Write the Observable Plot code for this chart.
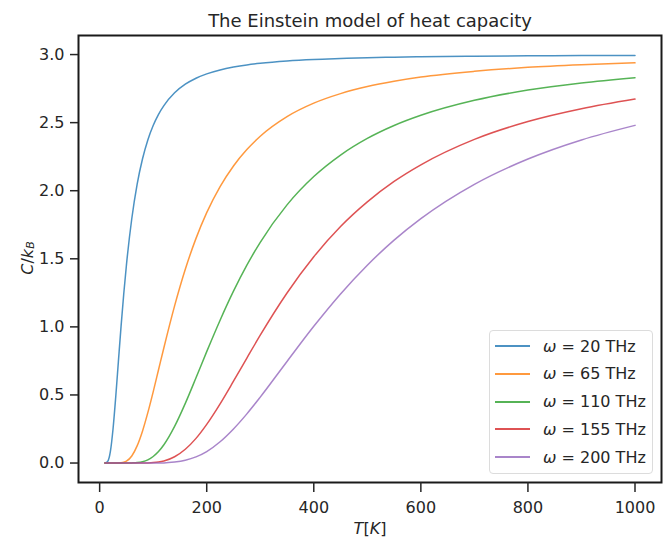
<!DOCTYPE html>
<html><head><meta charset="utf-8">
<script src="https://cdn.jsdelivr.net/npm/d3@7"></script>
<script src="https://cdn.jsdelivr.net/npm/@observablehq/plot@0.6"></script>
<style>
body{margin:0;background:#fff;}
#wrap{position:relative;width:671px;height:539px;font-family:"DejaVu Sans",sans-serif;}
#legend{position:absolute;left:489px;top:330px;width:164px;height:144px;border:1px solid #dcdcdc;border-radius:4px;background:rgba(255,255,255,0.85);box-sizing:border-box;}
.row{position:absolute;left:0;height:20px;display:flex;align-items:center;font-size:16px;color:#262626;white-space:nowrap;}
.sw{width:35px;height:0;border-top:2px solid;margin-left:5px;margin-right:13px;opacity:0.8;}
</style></head><body><div id="wrap"></div>
<script>
const title = "The Einstein model of heat capacity";
const T = [10,15,20,25,30,35,40,45,50,60,70,80,90,100,110,120,140,160,180,200,225,250,275,300,350,400,450,500,550,600,700,800,900,1000];
const c20  = [0.000,0.012,0.084,0.250,0.483,0.745,1.004,1.241,1.453,1.794,2.047,2.233,2.373,2.479,2.561,2.625,2.719,2.782,2.826,2.858,2.887,2.908,2.924,2.936,2.953,2.964,2.971,2.977,2.981,2.984,2.988,2.991,2.993,2.994];
const c65  = [0,0,0,0,0,0,0.002,0.006,0.014,0.052,0.126,0.234,0.370,0.523,0.685,0.847,1.154,1.423,1.650,1.839,2.030,2.182,2.302,2.400,2.544,2.643,2.713,2.765,2.804,2.835,2.877,2.906,2.925,2.939];
const c110 = [0,0,0,0,0,0,0,0,0,0.001,0.003,0.009,0.023,0.048,0.084,0.134,0.269,0.438,0.626,0.818,1.049,1.262,1.453,1.621,1.896,2.104,2.262,2.384,2.479,2.554,2.664,2.739,2.791,2.830];
const c155 = [0,0,0,0,0,0,0,0,0,0,0,0.000,0.001,0.003,0.007,0.015,0.046,0.101,0.181,0.284,0.435,0.601,0.771,0.939,1.249,1.515,1.737,1.918,2.068,2.190,2.377,2.508,2.602,2.673];
const c200 = [0,0,0,0,0,0,0,0,0,0,0,0,0,0.000,0.001,0.001,0.007,0.020,0.045,0.084,0.156,0.250,0.361,0.484,0.746,1.004,1.242,1.453,1.637,1.795,2.047,2.233,2.373,2.480];
const omegas = ["20","65","110","155","200"];
const seriesNames = omegas.map(w => "ω = " + w + " THz");
const colors = ["#1f77b4","#ff7f0e","#2ca02c","#d62728","#9467bd"];
const xTicks = [0,200,400,600,800,1000];
const yTicks = [0,0.5,1.0,1.5,2.0,2.5,3.0];

const seriesValues = [c20,c65,c110,c155,c200];
const data = seriesValues.flatMap((c,i) => T.map((t,j) => ({T:t, C:c[j], s:seriesNames[i]})));

const chart = Plot.plot({
  width: 671, height: 539,
  marginLeft: 78, marginRight: 10, marginTop: 35, marginBottom: 57,
  style: {fontFamily: "DejaVu Sans", fontSize: "16px", color: "#262626", background: "white", overflow: "visible"},
  x: {domain: [-39.5, 1049.5]},
  y: {domain: [-0.143, 3.14]},
  color: {domain: seriesNames, range: colors},
  marks: [
    Plot.line(data, {x: "T", y: "C", stroke: "s", z: "s", curve: "monotone-x", strokeWidth: 1.5, strokeOpacity: 0.8}),
    Plot.frame({stroke: "#1a1a1a", strokeWidth: 2}),
    Plot.axisX({ticks: xTicks, tickSize: 10, tickPadding: 9, tickFormat: d => String(d), label: null, strokeWidth: 1.5, fontSize: 16}),
    Plot.axisY({ticks: yTicks, tickSize: 8, tickPadding: 6, tickFormat: d3.format(".1f"), label: null, strokeWidth: 1.5, fontSize: 16}),
    Plot.text([title], {text: d => d, frameAnchor: "top", lineAnchor: "middle", dy: -14, fontSize: 18})
  ]
});

const svg = d3.select(chart);
const yl = svg.append("text")
  .attr("transform", "translate(27,258) rotate(-90)")
  .attr("text-anchor", "middle").attr("dominant-baseline", "central")
  .attr("font-size", 16).attr("fill", "#262626");
yl.append("tspan").attr("font-style", "italic").text("C");
yl.append("tspan").text("/");
yl.append("tspan").attr("font-style", "italic").text("k");
yl.append("tspan").attr("font-style", "italic").attr("font-size", 11).attr("dy", 3).text("B");

const xl = svg.append("text")
  .attr("x", 370).attr("y", 528)
  .attr("text-anchor", "middle").attr("dominant-baseline", "central")
  .attr("font-size", 16).attr("fill", "#262626");
xl.append("tspan").attr("font-style", "italic").text("T");
xl.append("tspan").text("[");
xl.append("tspan").attr("font-style", "italic").text("K");
xl.append("tspan").text("]");

const wrap = document.getElementById("wrap");
wrap.appendChild(chart);

const legend = document.createElement("div");
legend.id = "legend";
seriesNames.forEach((name, i) => {
  const row = document.createElement("div");
  row.className = "row";
  row.style.top = (5 + i * 27.75) + "px";
  const sw = document.createElement("span");
  sw.className = "sw";
  sw.style.borderColor = colors[i];
  const label = document.createElement("span");
  const om = document.createElement("i");
  om.textContent = "ω";
  label.appendChild(om);
  label.appendChild(document.createTextNode(" = " + omegas[i] + " THz"));
  row.appendChild(sw);
  row.appendChild(label);
  legend.appendChild(row);
});
wrap.appendChild(legend);
</script></body></html>
